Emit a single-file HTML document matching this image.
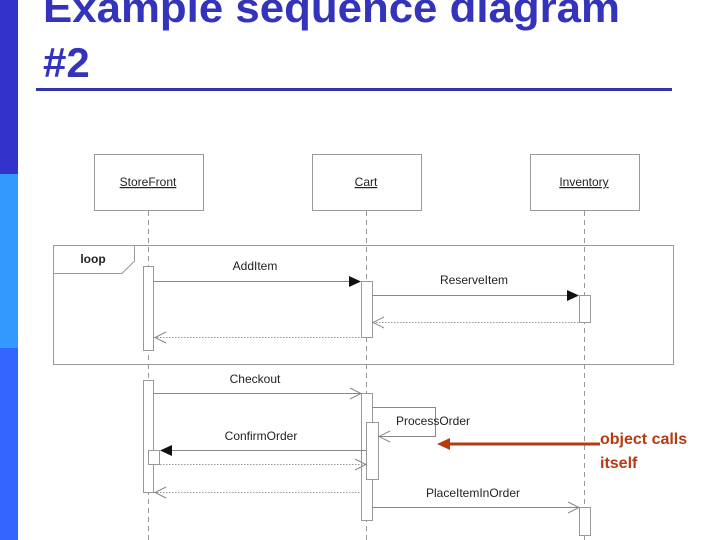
<!DOCTYPE html>
<html><head><meta charset="utf-8"><style>
html,body{margin:0;padding:0;background:#fff;width:720px;height:540px;overflow:hidden}
</style></head><body>
<svg width="720" height="540" xmlns="http://www.w3.org/2000/svg" style="position:absolute;left:0;top:0">
<rect x="0" y="0" width="18" height="174" fill="#3333cc"/>
<rect x="0" y="174" width="18" height="174" fill="#3399ff"/>
<rect x="0" y="348" width="18" height="192" fill="#3366ff"/>
<g font-family="Liberation Sans, sans-serif" font-weight="bold" font-size="42" fill="#3333bb">
<text x="43" y="22" textLength="577" lengthAdjust="spacingAndGlyphs">Example sequence diagram</text>
<text x="43" y="77">#2</text>
</g>
<rect x="36" y="88" width="636" height="3" fill="#3333aa"/>
<g fill="#fff" stroke="#999" stroke-width="1">
<rect x="94.5" y="154.5" width="109" height="56"/>
<rect x="312.5" y="154.5" width="109" height="56"/>
<rect x="530.5" y="154.5" width="109" height="56"/>
</g>
<g font-family="Liberation Sans, sans-serif" font-size="12" fill="#222" text-anchor="middle" text-decoration="underline">
<text x="148" y="186">StoreFront</text>
<text x="366" y="186">Cart</text>
<text x="584" y="186">Inventory</text>
</g>
<g stroke="#999" stroke-dasharray="5,4" stroke-width="1">
<line x1="148.5" y1="211" x2="148.5" y2="540"/>
<line x1="366.5" y1="211" x2="366.5" y2="540"/>
<line x1="584.5" y1="211" x2="584.5" y2="540"/>
</g>
<rect x="53.5" y="245.5" width="620" height="119" fill="none" stroke="#999"/>
<path d="M53.5 273.5 H122 L134.5 261 V245.5" fill="none" stroke="#999"/>
<text x="93" y="263" font-family="Liberation Sans, sans-serif" font-weight="bold" font-size="12" text-anchor="middle" fill="#222">loop</text>
<g fill="#fff" stroke="#999">
<rect x="143.5" y="266.5" width="10" height="84"/>
<rect x="361.5" y="281.5" width="11" height="56"/>
<rect x="579.5" y="295.5" width="11" height="27"/>
<rect x="143.5" y="380.5" width="10" height="112"/>
<rect x="361.5" y="393.5" width="11" height="127"/>
<rect x="366.5" y="422.5" width="12" height="57"/>
<rect x="148.5" y="450.5" width="11" height="14"/>
<rect x="579.5" y="507.5" width="11" height="28"/>
</g>
<g stroke="#888" fill="none" stroke-width="1">
<line x1="153" y1="281.5" x2="350" y2="281.5"/>
<line x1="372" y1="295.5" x2="568" y2="295.5"/>
<line x1="153" y1="393.5" x2="361" y2="393.5"/>
<path d="M350 388 L361 393.5 L350 399"/>
<path d="M372 407.5 H435.5 V436.5 H379"/>
<path d="M390 431 L379 436.5 L390 442"/>
<line x1="170" y1="450.5" x2="366" y2="450.5"/>
<line x1="372" y1="507.5" x2="579" y2="507.5"/>
<path d="M568 502 L579 507.5 L568 513"/>
</g>
<g stroke="#999" fill="none" stroke-dasharray="1.5,1.5">
<line x1="373" y1="322.5" x2="579" y2="322.5"/>
<line x1="154" y1="337.5" x2="361" y2="337.5"/>
<line x1="160" y1="464.5" x2="366" y2="464.5"/>
<line x1="154" y1="492.5" x2="361" y2="492.5"/>
</g>
<g stroke="#888" fill="none">
<path d="M384 317 L373 322.5 L384 328"/>
<path d="M166 332 L155 337.5 L166 343"/>
<path d="M355 459 L366 464.5 L355 470"/>
<path d="M166 487 L155 492.5 L166 498"/>
</g>
<g fill="#111">
<path d="M349 276 L361 281.5 L349 287Z"/>
<path d="M567 290 L579 295.5 L567 301Z"/>
<path d="M172 445 L160 450.5 L172 456Z"/>
</g>
<g font-family="Liberation Sans, sans-serif" font-size="12" fill="#222" text-anchor="middle">
<text x="255" y="270">AddItem</text>
<text x="474" y="284">ReserveItem</text>
<text x="255" y="383">Checkout</text>
<text x="433" y="425">ProcessOrder</text>
<text x="261" y="440">ConfirmOrder</text>
<text x="473" y="497">PlaceItemInOrder</text>
</g>
<line x1="448" y1="444" x2="600" y2="444" stroke="#b83a10" stroke-width="3"/>
<path d="M437 444 L450 438 L450 450Z" fill="#b83a10"/>
<g font-family="Liberation Sans, sans-serif" font-weight="bold" font-size="16" fill="#b83a10">
<text x="600" y="444">object calls</text>
<text x="600" y="468">itself</text>
</g>
</svg>
</body></html>
